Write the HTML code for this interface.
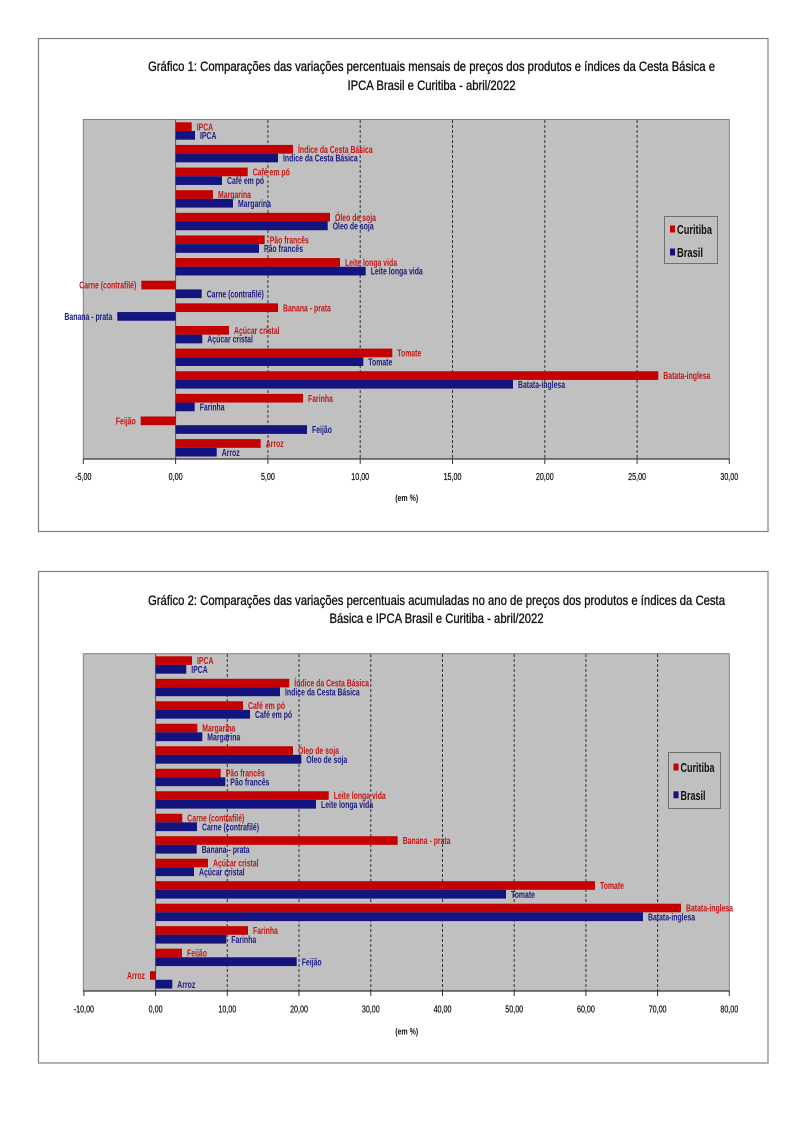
<!DOCTYPE html>
<html>
<head>
<meta charset="utf-8">
<style>
html,body{margin:0;padding:0;background:#fff;}
svg{display:block;}
text{font-family:"Liberation Sans",Arial,sans-serif;}
.r{fill:#c81414;font-size:10px;font-weight:bold;}
.b{fill:#1c1c80;font-size:10px;font-weight:bold;}
.t{font-size:10.5px;fill:#111;stroke:#111;stroke-width:0.25;}
.ttl{font-size:14px;fill:#111;stroke:#111;stroke-width:0.35;}
.lg{font-size:13px;font-weight:bold;fill:#111;}
.em{font-size:9px;fill:#111;font-weight:bold;}
.rb{fill:#c40000;}
.bb{fill:#14147e;}
.grid{stroke:#333;stroke-width:1;stroke-dasharray:3,2;}
</style>
</head>
<body>
<svg width="800" height="1131" viewBox="0 0 800 1131" xmlns="http://www.w3.org/2000/svg">
<rect x="0" y="0" width="800" height="1131" fill="#fff"/>

<!-- ================= CHART 1 ================= -->
<rect x="38.5" y="38.5" width="729.5" height="493" fill="#fff" stroke="#808080" stroke-width="1.2"/>
<text class="ttl" x="431.5" y="71" text-anchor="middle" textLength="567" lengthAdjust="spacingAndGlyphs">Gráfico 1: Comparações das variações percentuais mensais de preços dos produtos e índices da Cesta Básica e</text>
<text class="ttl" x="431.5" y="90" text-anchor="middle" textLength="168" lengthAdjust="spacingAndGlyphs">IPCA Brasil e Curitiba - abril/2022</text>

<rect x="83.3" y="119.5" width="646" height="339.5" fill="#c0c0c0" stroke="#808080" stroke-width="1"/>
<line class="grid" x1="267.9" y1="120" x2="267.9" y2="459"/>
<line class="grid" x1="360.2" y1="120" x2="360.2" y2="459"/>
<line class="grid" x1="452.5" y1="120" x2="452.5" y2="459"/>
<line class="grid" x1="544.8" y1="120" x2="544.8" y2="459"/>
<line class="grid" x1="637.1" y1="120" x2="637.1" y2="459"/>
<line x1="175.6" y1="119.5" x2="175.6" y2="459" stroke="#555" stroke-width="1"/>

<!-- bars chart 1 -->
<rect class="rb" x="175.6" y="122.3" width="16.1" height="8.7"/>
<rect class="bb" x="175.6" y="131.0" width="19.4" height="8.7"/>
<rect class="rb" x="175.6" y="144.93" width="117.4" height="8.7"/>
<rect class="bb" x="175.6" y="153.63" width="102.4" height="8.7"/>
<rect class="rb" x="175.6" y="167.56" width="72.1" height="8.7"/>
<rect class="bb" x="175.6" y="176.26" width="46.4" height="8.7"/>
<rect class="rb" x="175.6" y="190.19" width="37.4" height="8.7"/>
<rect class="bb" x="175.6" y="198.89" width="57.4" height="8.7"/>
<rect class="rb" x="175.6" y="212.82" width="154.4" height="8.7"/>
<rect class="bb" x="175.6" y="221.52" width="152.1" height="8.7"/>
<rect class="rb" x="175.6" y="235.45" width="89.1" height="8.7"/>
<rect class="bb" x="175.6" y="244.15" width="83.4" height="8.7"/>
<rect class="rb" x="175.6" y="258.08" width="164.4" height="8.7"/>
<rect class="bb" x="175.6" y="266.78" width="190.1" height="8.7"/>
<rect class="rb" x="141.3" y="280.71" width="34.3" height="8.7"/>
<rect class="bb" x="175.6" y="289.41" width="26.1" height="8.7"/>
<rect class="rb" x="175.6" y="303.34" width="102.4" height="8.7"/>
<rect class="bb" x="117.3" y="312.04" width="58.3" height="8.7"/>
<rect class="rb" x="175.6" y="325.97" width="53.4" height="8.7"/>
<rect class="bb" x="175.6" y="334.67" width="26.7" height="8.7"/>
<rect class="rb" x="175.6" y="348.6" width="216.7" height="8.7"/>
<rect class="bb" x="175.6" y="357.3" width="187.7" height="8.7"/>
<rect class="rb" x="175.6" y="371.23" width="482.7" height="8.7"/>
<rect class="bb" x="175.6" y="379.93" width="337.4" height="8.7"/>
<rect class="rb" x="175.6" y="393.86" width="127.4" height="8.7"/>
<rect class="bb" x="175.6" y="402.56" width="19.1" height="8.7"/>
<rect class="rb" x="140.7" y="416.49" width="34.9" height="8.7"/>
<rect class="bb" x="175.6" y="425.19" width="131.4" height="8.7"/>
<rect class="rb" x="175.6" y="439.12" width="85.1" height="8.7"/>
<rect class="bb" x="175.6" y="447.82" width="41.1" height="8.7"/>

<!-- labels chart 1 -->
<text class="r" transform="translate(196.7 130.25) scale(0.69 1)">IPCA</text>
<text class="b" transform="translate(200 138.95) scale(0.69 1)">IPCA</text>
<text class="r" transform="translate(298 152.88) scale(0.69 1)">Índice da Cesta Básica</text>
<text class="b" transform="translate(283 161.58) scale(0.69 1)">Índice da Cesta Básica</text>
<text class="r" transform="translate(252.7 175.51) scale(0.69 1)">Café em pó</text>
<text class="b" transform="translate(227 184.21) scale(0.69 1)">Café em pó</text>
<text class="r" transform="translate(218 198.14) scale(0.69 1)">Margarina</text>
<text class="b" transform="translate(238 206.84) scale(0.69 1)">Margarina</text>
<text class="r" transform="translate(335 220.77) scale(0.69 1)">Óleo de soja</text>
<text class="b" transform="translate(332.7 229.47) scale(0.69 1)">Óleo de soja</text>
<text class="r" transform="translate(269.7 243.4) scale(0.69 1)">Pão francês</text>
<text class="b" transform="translate(264 252.1) scale(0.69 1)">Pão francês</text>
<text class="r" transform="translate(345 266.03) scale(0.69 1)">Leite longa vida</text>
<text class="b" transform="translate(370.7 274.73) scale(0.69 1)">Leite longa vida</text>
<text class="r" text-anchor="end" transform="translate(136.3 288.66) scale(0.69 1)">Carne (contrafilé)</text>
<text class="b" transform="translate(206.7 297.36) scale(0.69 1)">Carne (contrafilé)</text>
<text class="r" transform="translate(283 311.29) scale(0.69 1)">Banana - prata</text>
<text class="b" text-anchor="end" transform="translate(112.3 319.99) scale(0.69 1)">Banana - prata</text>
<text class="r" transform="translate(234 333.92) scale(0.69 1)">Açúcar cristal</text>
<text class="b" transform="translate(207.3 342.62) scale(0.69 1)">Açúcar cristal</text>
<text class="r" transform="translate(397.3 356.55) scale(0.69 1)">Tomate</text>
<text class="b" transform="translate(368.3 365.25) scale(0.69 1)">Tomate</text>
<text class="r" transform="translate(663.3 379.18) scale(0.69 1)">Batata-inglesa</text>
<text class="b" transform="translate(518 387.88) scale(0.69 1)">Batata-inglesa</text>
<text class="r" transform="translate(308 401.81) scale(0.69 1)">Farinha</text>
<text class="b" transform="translate(199.7 410.51) scale(0.69 1)">Farinha</text>
<text class="r" text-anchor="end" transform="translate(135.7 424.44) scale(0.69 1)">Feijão</text>
<text class="b" transform="translate(312 433.14) scale(0.69 1)">Feijão</text>
<text class="r" transform="translate(265.7 447.07) scale(0.69 1)">Arroz</text>
<text class="b" transform="translate(221.7 455.77) scale(0.69 1)">Arroz</text>

<!-- axis chart 1 -->
<line x1="83.3" y1="459" x2="729.3" y2="459" stroke="#333" stroke-width="1.3"/>
<g stroke="#333" stroke-width="1">
<line x1="83.3" y1="459" x2="83.3" y2="464"/>
<line x1="175.6" y1="459" x2="175.6" y2="464"/>
<line x1="267.9" y1="459" x2="267.9" y2="464"/>
<line x1="360.2" y1="459" x2="360.2" y2="464"/>
<line x1="452.5" y1="459" x2="452.5" y2="464"/>
<line x1="544.8" y1="459" x2="544.8" y2="464"/>
<line x1="637.1" y1="459" x2="637.1" y2="464"/>
<line x1="729.3" y1="459" x2="729.3" y2="464"/>
</g>
<g text-anchor="middle">
<text class="t" transform="translate(83.3 480) scale(0.68 1)">-5,00</text>
<text class="t" transform="translate(175.6 480) scale(0.68 1)">0,00</text>
<text class="t" transform="translate(267.9 480) scale(0.68 1)">5,00</text>
<text class="t" transform="translate(360.2 480) scale(0.68 1)">10,00</text>
<text class="t" transform="translate(452.5 480) scale(0.68 1)">15,00</text>
<text class="t" transform="translate(544.8 480) scale(0.68 1)">20,00</text>
<text class="t" transform="translate(637.1 480) scale(0.68 1)">25,00</text>
<text class="t" transform="translate(729.3 480) scale(0.68 1)">30,00</text>
</g>
<text class="em" x="406.7" y="501" text-anchor="middle" textLength="23" lengthAdjust="spacingAndGlyphs">(em %)</text>

<!-- legend chart 1 -->
<rect x="664.5" y="216.5" width="53" height="47" fill="#c0c0c0" stroke="#707070" stroke-width="1"/>
<rect class="rb" x="670" y="225.5" width="5" height="7"/>
<text class="lg" x="677" y="234" textLength="35" lengthAdjust="spacingAndGlyphs">Curitiba</text>
<rect class="bb" x="670" y="248.5" width="5" height="7"/>
<text class="lg" x="677" y="257" textLength="26" lengthAdjust="spacingAndGlyphs">Brasil</text>

<!-- ================= CHART 2 ================= -->
<rect x="38.5" y="571.5" width="729.5" height="491.5" fill="#fff" stroke="#808080" stroke-width="1.2"/>
<text class="ttl" x="436.5" y="605" text-anchor="middle" textLength="577" lengthAdjust="spacingAndGlyphs">Gráfico 2: Comparações das variações percentuais acumuladas no ano de preços dos produtos e índices da Cesta</text>
<text class="ttl" x="436.5" y="623" text-anchor="middle" textLength="214" lengthAdjust="spacingAndGlyphs">Básica e IPCA Brasil e Curitiba - abril/2022</text>

<rect x="83.3" y="653.7" width="646" height="337.3" fill="#c0c0c0" stroke="#808080" stroke-width="1"/>
<line class="grid" x1="227.3" y1="654" x2="227.3" y2="991"/>
<line class="grid" x1="299.0" y1="654" x2="299.0" y2="991"/>
<line class="grid" x1="370.8" y1="654" x2="370.8" y2="991"/>
<line class="grid" x1="442.5" y1="654" x2="442.5" y2="991"/>
<line class="grid" x1="514.2" y1="654" x2="514.2" y2="991"/>
<line class="grid" x1="585.9" y1="654" x2="585.9" y2="991"/>
<line class="grid" x1="657.6" y1="654" x2="657.6" y2="991"/>
<line x1="155.6" y1="653.7" x2="155.6" y2="991" stroke="#555" stroke-width="1"/>

<!-- bars chart 2 -->
<rect class="rb" x="155.6" y="656.3" width="36.4" height="8.6"/>
<rect class="bb" x="155.6" y="664.9" width="30.7" height="8.8"/>
<rect class="rb" x="155.6" y="678.79" width="133.7" height="8.6"/>
<rect class="bb" x="155.6" y="687.39" width="124.4" height="8.8"/>
<rect class="rb" x="155.6" y="701.28" width="87.4" height="8.6"/>
<rect class="bb" x="155.6" y="709.88" width="94.4" height="8.8"/>
<rect class="rb" x="155.6" y="723.77" width="41.7" height="8.6"/>
<rect class="bb" x="155.6" y="732.37" width="46.7" height="8.8"/>
<rect class="rb" x="155.6" y="746.26" width="137.4" height="8.6"/>
<rect class="bb" x="155.6" y="754.86" width="145.7" height="8.8"/>
<rect class="rb" x="155.6" y="768.75" width="65.1" height="8.6"/>
<rect class="bb" x="155.6" y="777.35" width="69.7" height="8.8"/>
<rect class="rb" x="155.6" y="791.24" width="173.1" height="8.6"/>
<rect class="bb" x="155.6" y="799.84" width="160.4" height="8.8"/>
<rect class="rb" x="155.6" y="813.73" width="26.7" height="8.6"/>
<rect class="bb" x="155.6" y="822.33" width="41.4" height="8.8"/>
<rect class="rb" x="155.6" y="836.22" width="242.1" height="8.6"/>
<rect class="bb" x="155.6" y="844.82" width="41.1" height="8.8"/>
<rect class="rb" x="155.6" y="858.71" width="52.4" height="8.6"/>
<rect class="bb" x="155.6" y="867.31" width="38.4" height="8.8"/>
<rect class="rb" x="155.6" y="881.2" width="439.4" height="8.6"/>
<rect class="bb" x="155.6" y="889.8" width="350.4" height="8.8"/>
<rect class="rb" x="155.6" y="903.69" width="525.4" height="8.6"/>
<rect class="bb" x="155.6" y="912.29" width="487.4" height="8.8"/>
<rect class="rb" x="155.6" y="926.18" width="92.4" height="8.6"/>
<rect class="bb" x="155.6" y="934.78" width="70.7" height="8.8"/>
<rect class="rb" x="155.6" y="948.67" width="26.4" height="8.6"/>
<rect class="bb" x="155.6" y="957.27" width="141.1" height="8.8"/>
<rect class="rb" x="150" y="971.16" width="5.6" height="8.6"/>
<rect class="bb" x="155.6" y="979.76" width="16.7" height="8.8"/>

<!-- labels chart 2 -->
<text class="r" transform="translate(197 664.2) scale(0.69 1)">IPCA</text>
<text class="b" transform="translate(191.3 672.9) scale(0.69 1)">IPCA</text>
<text class="r" transform="translate(294.3 686.69) scale(0.69 1)">Índice da Cesta Básica</text>
<text class="b" transform="translate(285 695.39) scale(0.69 1)">Índice da Cesta Básica</text>
<text class="r" transform="translate(248 709.18) scale(0.69 1)">Café em pó</text>
<text class="b" transform="translate(255 717.88) scale(0.69 1)">Café em pó</text>
<text class="r" transform="translate(202.3 731.67) scale(0.69 1)">Margarina</text>
<text class="b" transform="translate(207.3 740.37) scale(0.69 1)">Margarina</text>
<text class="r" transform="translate(298 754.16) scale(0.69 1)">Óleo de soja</text>
<text class="b" transform="translate(306.3 762.86) scale(0.69 1)">Óleo de soja</text>
<text class="r" transform="translate(225.7 776.65) scale(0.69 1)">Pão francês</text>
<text class="b" transform="translate(230.3 785.35) scale(0.69 1)">Pão francês</text>
<text class="r" transform="translate(333.7 799.14) scale(0.69 1)">Leite longa vida</text>
<text class="b" transform="translate(321 807.84) scale(0.69 1)">Leite longa vida</text>
<text class="r" transform="translate(187.3 821.63) scale(0.69 1)">Carne (contrafilé)</text>
<text class="b" transform="translate(202 830.33) scale(0.69 1)">Carne (contrafilé)</text>
<text class="r" transform="translate(402.7 844.12) scale(0.69 1)">Banana - prata</text>
<text class="b" transform="translate(201.7 852.82) scale(0.69 1)">Banana - prata</text>
<text class="r" transform="translate(213 866.61) scale(0.69 1)">Açúcar cristal</text>
<text class="b" transform="translate(199 875.31) scale(0.69 1)">Açúcar cristal</text>
<text class="r" transform="translate(600 889.1) scale(0.69 1)">Tomate</text>
<text class="b" transform="translate(511 897.8) scale(0.69 1)">Tomate</text>
<text class="r" transform="translate(686 911.59) scale(0.69 1)">Batata-inglesa</text>
<text class="b" transform="translate(648 920.29) scale(0.69 1)">Batata-inglesa</text>
<text class="r" transform="translate(253 934.08) scale(0.69 1)">Farinha</text>
<text class="b" transform="translate(231.3 942.78) scale(0.69 1)">Farinha</text>
<text class="r" transform="translate(187 956.57) scale(0.69 1)">Feijão</text>
<text class="b" transform="translate(301.7 965.27) scale(0.69 1)">Feijão</text>
<text class="r" text-anchor="end" transform="translate(145 979.06) scale(0.69 1)">Arroz</text>
<text class="b" transform="translate(177.3 987.76) scale(0.69 1)">Arroz</text>

<!-- axis chart 2 -->
<line x1="83.3" y1="991" x2="729.3" y2="991" stroke="#333" stroke-width="1.3"/>
<g stroke="#333" stroke-width="1">
<line x1="83.9" y1="991" x2="83.9" y2="996"/>
<line x1="155.6" y1="991" x2="155.6" y2="996"/>
<line x1="227.3" y1="991" x2="227.3" y2="996"/>
<line x1="299.0" y1="991" x2="299.0" y2="996"/>
<line x1="370.8" y1="991" x2="370.8" y2="996"/>
<line x1="442.5" y1="991" x2="442.5" y2="996"/>
<line x1="514.2" y1="991" x2="514.2" y2="996"/>
<line x1="585.9" y1="991" x2="585.9" y2="996"/>
<line x1="657.6" y1="991" x2="657.6" y2="996"/>
<line x1="729.3" y1="991" x2="729.3" y2="996"/>
</g>
<g text-anchor="middle">
<text class="t" transform="translate(83.9 1012.7) scale(0.68 1)">-10,00</text>
<text class="t" transform="translate(155.6 1012.7) scale(0.68 1)">0,00</text>
<text class="t" transform="translate(227.3 1012.7) scale(0.68 1)">10,00</text>
<text class="t" transform="translate(299.0 1012.7) scale(0.68 1)">20,00</text>
<text class="t" transform="translate(370.8 1012.7) scale(0.68 1)">30,00</text>
<text class="t" transform="translate(442.5 1012.7) scale(0.68 1)">40,00</text>
<text class="t" transform="translate(514.2 1012.7) scale(0.68 1)">50,00</text>
<text class="t" transform="translate(585.9 1012.7) scale(0.68 1)">60,00</text>
<text class="t" transform="translate(657.6 1012.7) scale(0.68 1)">70,00</text>
<text class="t" transform="translate(729.3 1012.7) scale(0.68 1)">80,00</text>
</g>
<text class="em" x="406.7" y="1034.5" text-anchor="middle" textLength="23" lengthAdjust="spacingAndGlyphs">(em %)</text>

<!-- legend chart 2 -->
<rect x="668.5" y="752.5" width="52" height="56" fill="#c0c0c0" stroke="#707070" stroke-width="1"/>
<rect class="rb" x="673.5" y="763.5" width="5" height="7"/>
<text class="lg" x="680.5" y="772" textLength="34" lengthAdjust="spacingAndGlyphs">Curitiba</text>
<rect class="bb" x="673.5" y="791.3" width="5" height="7"/>
<text class="lg" x="680.5" y="799.8" textLength="25" lengthAdjust="spacingAndGlyphs">Brasil</text>

</svg>
</body>
</html>
